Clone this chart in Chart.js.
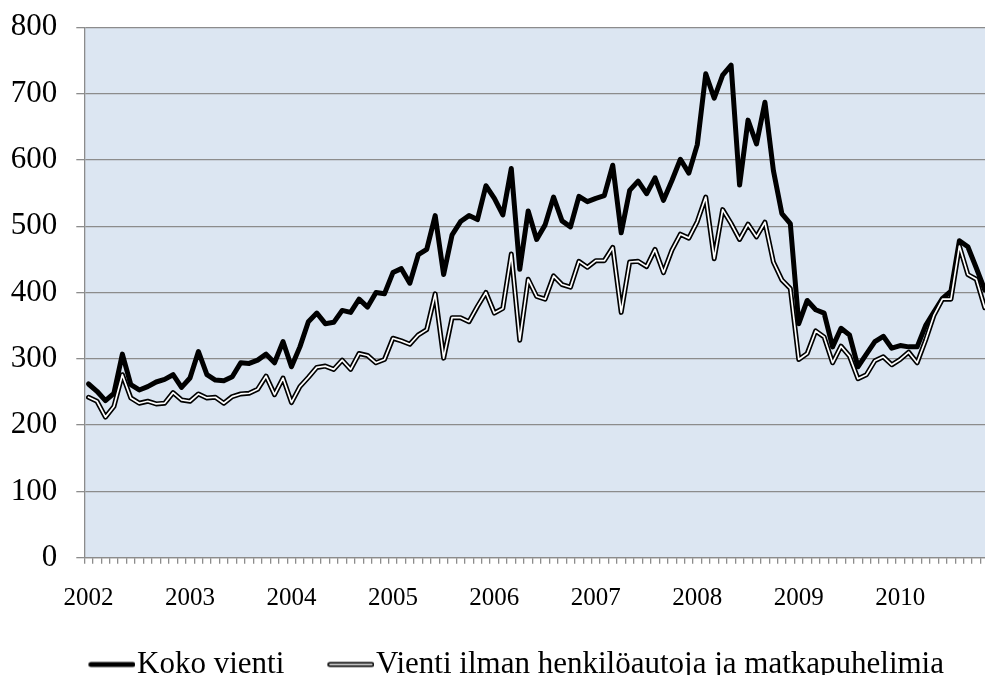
<!DOCTYPE html>
<html>
<head>
<meta charset="utf-8">
<script src="https://cdn.jsdelivr.net/npm/chart.js@4/dist/chart.umd.min.js"></script>
<style>
html, body { margin: 0; padding: 0; overflow: hidden; background: #ffffff; }
#wrap { position: relative; width: 989px; height: 690px; }
</style>
</head>
<body>
<div id="wrap"><canvas id="c"></canvas></div>
<script>
// Year tick labels (one label per January)
const years = ['2002', '2003', '2004', '2005', '2006', '2007', '2008', '2009', '2010'];

// Koko vienti (monthly, 2002-01 .. 2010-11)
const kokoVienti = [
  262, 251, 237, 248, 307, 261, 253, 258, 265, 269, 276, 257,
  271, 311, 276, 268, 267, 273, 294, 293, 298, 307, 294, 326,
  288, 318, 356, 369, 353, 355, 373, 370, 390, 378, 400, 398,
  430, 436, 414, 457, 465, 516, 427, 487, 507, 516, 510, 561,
  542, 517, 587, 435, 523, 480, 502, 544, 508, 499, 545, 537,
  542, 546, 592, 490, 554, 568, 549, 573, 539, 569, 601, 580,
  623, 730, 693, 728, 743, 562, 660, 624, 687, 584, 519, 504,
  353, 388, 374, 369, 318, 346, 336, 288, 307, 326, 334, 316,
  320, 318, 318, 350, 371, 391, 402, 478, 469, 437, 404
];

// Vienti ilman henkilöautoja ja matkapuhelimia
const ilmanAutojaPuhelimia = [
  242, 236, 212, 228, 276, 241, 233, 236, 232, 233, 249, 238,
  236, 247, 241, 242, 233, 243, 247, 248, 254, 274, 246, 271,
  234, 258, 272, 287, 289, 284, 298, 284, 308, 305, 294, 299,
  331, 327, 322, 336, 344, 398, 301, 362, 362, 356, 379, 400,
  369, 376, 458, 328, 420, 394, 390, 425, 412, 408, 447, 438,
  448, 448, 468, 370, 446, 447, 439, 465, 430, 464, 488, 482,
  507, 544, 451, 525, 504, 480, 503, 484, 506, 446, 419, 406,
  299, 308, 342, 333, 294, 319, 304, 270, 276, 297, 303, 291,
  299, 310, 294, 328, 366, 390, 390, 470, 427, 420, 377
];

const seriesNames = ['Koko vienti', 'Vienti ilman henkilöautoja ja matkapuhelimia'];

// Monthly categories
const categories = [];
years.forEach(function (y) {
  for (let m = 1; m <= 12; m++) categories.push(y + '-' + String(m).padStart(2, '0'));
});
categories.length = kokoVienti.length;

const FONT = "'Liberation Serif', 'Times New Roman', serif";
const GRID = '#8c8c8c';

function makeMarker(isDouble) {
  const c = document.createElement('canvas');
  c.width = 94; c.height = 12;
  const g = c.getContext('2d');
  const x0 = 94 - 47 + 2.5, x1 = 94 - 2.5;
  g.lineCap = 'round';
  g.strokeStyle = '#000000';
  g.lineWidth = 5;
  g.beginPath(); g.moveTo(x0, 6); g.lineTo(x1, 6); g.stroke();
  if (isDouble) {
    g.strokeStyle = '#ffffff';
    g.lineWidth = 1.7;
    g.beginPath(); g.moveTo(x0, 6); g.lineTo(x1, 6); g.stroke();
  }
  return c;
}

const plotBg = {
  id: 'plotBg',
  beforeDraw(chart) {
    const a = chart.chartArea, ctx = chart.ctx;
    ctx.save();
    ctx.fillStyle = '#dce6f2';
    ctx.fillRect(a.left, a.top, a.right - a.left, a.bottom - a.top);
    ctx.restore();
  }
};

function noScalePadding(s) {
  s.paddingTop = 0; s.paddingBottom = 0; s.paddingLeft = 0; s.paddingRight = 0;
}

new Chart(document.getElementById('c'), {
  type: 'line',
  data: {
    labels: categories,
    datasets: [
      {
        label: seriesNames[0],
        data: kokoVienti,
        borderColor: '#000000',
        borderWidth: 5,
        pointRadius: 0,
        pointStyle: makeMarker(false),
        tension: 0,
        borderJoinStyle: 'round',
        borderCapStyle: 'round',
        order: 2
      },
      {
        label: seriesNames[1],
        data: ilmanAutojaPuhelimia,
        borderColor: '#000000',
        borderWidth: 5,
        pointRadius: 0,
        pointStyle: makeMarker(true),
        tension: 0,
        borderJoinStyle: 'round',
        borderCapStyle: 'round',
        order: 1
      },
      {
        label: seriesNames[1] + ' (core)',
        data: ilmanAutojaPuhelimia,
        borderColor: '#ffffff',
        borderWidth: 1.7,
        pointRadius: 0,
        tension: 0,
        borderJoinStyle: 'round',
        borderCapStyle: 'round',
        order: 0
      }
    ]
  },
  options: {
    responsive: true,
    maintainAspectRatio: false,
    animation: false,
    layout: { padding: { left: 10.3, top: 27.3, right: 0, bottom: 0 } },
    plugins: {
      tooltip: { enabled: false },
      legend: {
        position: 'bottom',
        align: 'center',
        labels: {
          usePointStyle: true,
          pointStyleWidth: 66.2,
          padding: 10,
          color: '#000000',
          font: { family: FONT, size: 31 },
          filter: function (item) { return item.datasetIndex !== 2; },
          sort: function (a, b) { return a.datasetIndex - b.datasetIndex; }
        }
      }
    },
    scales: {
      x: {
        type: 'category',
        offset: true,
        afterFit: function (s) { s.height = 81.3; noScalePadding(s); },
        grid: {
          display: true,
          offset: true,
          drawOnChartArea: false,
          drawTicks: true,
          tickLength: 6,
          color: GRID,
          lineWidth: 1.3
        },
        border: { display: true, color: GRID, width: 1.3 },
        ticks: {
          autoSkip: false,
          maxRotation: 0,
          minRotation: 0,
          padding: 20,
          color: '#000000',
          font: { family: FONT, size: 25 },
          callback: function (value, index) {
            return index % 12 === 0 ? years[index / 12] : '';
          }
        }
      },
      y: {
        min: 0,
        max: 800,
        afterFit: function (s) { s.width = 74; noScalePadding(s); },
        grid: {
          color: GRID,
          lineWidth: 1.3,
          drawTicks: true,
          tickLength: 8
        },
        border: { display: true, color: GRID, width: 1.3 },
        ticks: {
          stepSize: 100,
          padding: 19,
          color: '#000000',
          font: { family: FONT, size: 31 }
        }
      }
    }
  },
  plugins: [plotBg]
});
</script>
</body>
</html>
